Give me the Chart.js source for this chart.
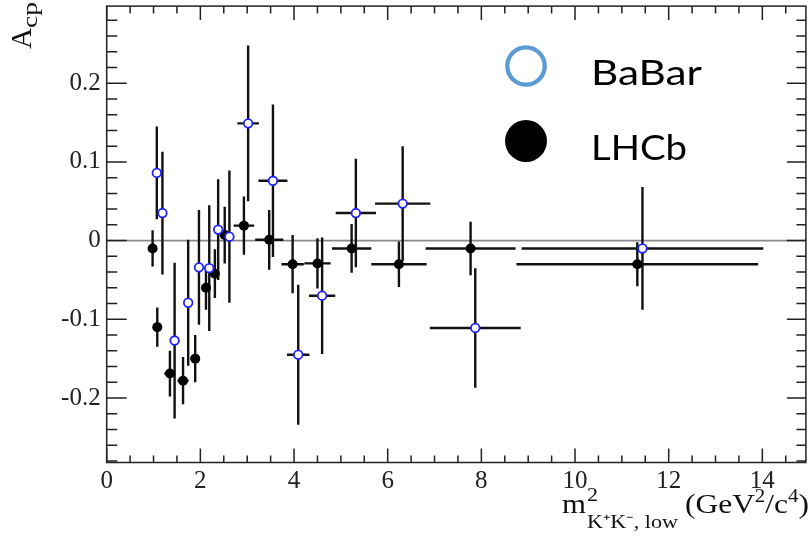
<!DOCTYPE html>
<html>
<head>
<meta charset="utf-8">
<title>Acp vs m2 KK low</title>
<script src="https://cdn.jsdelivr.net/npm/chart.js@4.4.1/dist/chart.umd.min.js"></script>
<style>
  html, body { margin: 0; padding: 0; background: #fff; }
  #wrap { width: 812px; height: 539px; position: relative; }
</style>
</head>
<body>
<div id="wrap"><canvas id="acpChart" width="812" height="539"></canvas></div>
<script>
// BaBar points (open markers)
const babarX    = [1.07, 1.19, 1.45, 1.74, 1.97, 2.19, 2.38, 2.62, 3.02, 3.55, 4.09, 4.60, 5.32, 6.32, 7.87, 11.44];
const babarY    = [0.086, 0.035, -0.127, -0.079, -0.034, -0.035, 0.014, 0.005, 0.149, 0.076, -0.145, -0.070, 0.035, 0.047, -0.111, -0.010];
const babarErrY = [0.059, 0.078, 0.099, 0.080, 0.073, 0.080, 0.064, 0.084, 0.099, 0.097, 0.089, 0.074, 0.069, 0.073, 0.076, 0.078];
const babarErrX = [0, 0, 0, 0, 0, 0, 0, 0, 0.23, 0.31, 0.24, 0.28, 0.43, 0.59, 0.97, 2.58];

// LHCb points (filled markers)
const lhcbX    = [0.98, 1.08, 1.35, 1.63, 1.89, 2.12, 2.31, 2.52, 2.93, 3.47, 3.97, 4.50, 5.23, 6.24, 7.77, 11.33];
const lhcbY    = [-0.010, -0.110, -0.169, -0.178, -0.150, -0.060, -0.042, 0.007, 0.019, 0.001, -0.030, -0.029, -0.010, -0.030, -0.010, -0.030];
const lhcbErrY = [0.023, 0.025, 0.029, 0.030, 0.030, 0.028, 0.031, 0.036, 0.037, 0.038, 0.037, 0.032, 0.031, 0.029, 0.034, 0.028];
const lhcbErrX = [0.04, 0.04, 0.12, 0.12, 0.10, 0.08, 0.08, 0.08, 0.22, 0.30, 0.24, 0.28, 0.42, 0.59, 0.96, 2.58];

// axis ticks
const xTickVals = [0, 2, 4, 6, 8, 10, 12, 14];
const yTickVals = [-0.2, -0.1, 0, 0.1, 0.2];

const toPoints = (xs, ys) => xs.map((x, i) => ({ x: x, y: ys[i] }));

// ROOT-like frame, inward ticks and zero line
const frameTicks = {
  id: 'frameTicks',
  beforeDatasetsDraw(chart) {
    const { ctx, chartArea: a, scales: { x, y } } = chart;
    ctx.save();
    // zero line
    ctx.strokeStyle = '#8a8a8a';
    ctx.lineWidth = 1.6;
    ctx.beginPath();
    ctx.moveTo(a.left, y.getPixelForValue(0));
    ctx.lineTo(a.right, y.getPixelForValue(0));
    ctx.stroke();

    ctx.strokeStyle = '#222';
    ctx.lineWidth = 1.5;
    ctx.strokeRect(a.left, a.top, a.right - a.left, a.bottom - a.top);

    ctx.beginPath();
    // x ticks: major every 2, minor every 0.5
    for (let v = 0; v <= x.max + 1e-9; v += 0.5) {
      const px = x.getPixelForValue(v);
      const major = Math.abs(v / 2 - Math.round(v / 2)) < 1e-6;
      const lb = major ? 14 : 7, lt = major ? 14 : 7.5;
      ctx.moveTo(px, a.bottom); ctx.lineTo(px, a.bottom - lb);
      ctx.moveTo(px, a.top); ctx.lineTo(px, a.top + lt);
    }
    // y ticks: major every 0.1, minor every 0.02
    for (let k = -14; k <= 14; k++) {
      const v = k * 0.02;
      if (v < y.min - 1e-9 || v > y.max + 1e-9) continue;
      const py = y.getPixelForValue(v);
      const major = k % 5 === 0;
      const ll = major ? 20 : 10.5, lr = major ? 19 : 9.5;
      ctx.moveTo(a.left, py); ctx.lineTo(a.left + ll, py);
      ctx.moveTo(a.right, py); ctx.lineTo(a.right - lr, py);
    }
    ctx.stroke();

    // error bars
    ctx.strokeStyle = '#111';
    ctx.lineWidth = 2.4;
    chart.data.datasets.forEach((ds) => {
      ctx.beginPath();
      ds.data.forEach((p, i) => {
        const cx = x.getPixelForValue(p.x), cy = y.getPixelForValue(p.y);
        const ey = ds.errY[i], ex = ds.errX[i];
        ctx.moveTo(cx, y.getPixelForValue(p.y + ey));
        ctx.lineTo(cx, y.getPixelForValue(p.y - ey));
        if (ex > 0) {
          ctx.moveTo(x.getPixelForValue(p.x - ex), cy);
          ctx.lineTo(x.getPixelForValue(p.x + ex), cy);
        }
      });
      ctx.stroke();
    });
    ctx.restore();
  }
};

// draw a run of text pieces, squeezed/stretched to a target width
function drawRun(ctx, pieces, x0, base, targetW) {
  let w = 0;
  pieces.forEach(p => { ctx.font = p.size + 'px "Liberation Serif"'; w += ctx.measureText(p.t).width; });
  const sx = targetW ? targetW / w : 1;
  ctx.save();
  ctx.translate(x0, base);
  ctx.scale(sx, 1);
  let cx = 0;
  pieces.forEach(p => {
    ctx.font = p.size + 'px "Liberation Serif"';
    ctx.fillText(p.t, cx + (p.dx || 0), p.dy || 0);
    if (!p.noAdvance) cx += ctx.measureText(p.t).width;
  });
  ctx.restore();
}

const titlesLegend = {
  id: 'titlesLegend',
  afterDraw(chart) {
    const ctx = chart.ctx;
    ctx.save();
    ctx.fillStyle = '#111';
    ctx.textBaseline = 'alphabetic';
    ctx.textAlign = 'left';

    // y title A_cp (rotated)
    ctx.save();
    ctx.translate(31, 49);
    ctx.rotate(-Math.PI / 2);
    drawRun(ctx, [{ t: 'A', size: 29 }], 0, 0, 21);
    drawRun(ctx, [{ t: 'cp', size: 22 }], 21, 6, 26);
    ctx.restore();

    // x title m^2_{K+K-, low} (GeV^2/c^4)
    drawRun(ctx, [{ t: 'm', size: 27 }], 562, 513, 24);
    drawRun(ctx, [{ t: '2', size: 18 }], 587, 501, 11);
    drawRun(ctx, [{ t: 'K\u207AK\u207B, low', size: 18 }], 587, 528, 91);
    drawRun(ctx, [
      { t: '(GeV', size: 27 },
      { t: '2', size: 18, dy: -11 },
      { t: '/c', size: 27 },
      { t: '4', size: 18, dy: -11 },
      { t: ')', size: 27 }
    ], 685, 513, 124);

    // legend
    ctx.lineWidth = 4.3;
    ctx.strokeStyle = '#5b9bd5';
    ctx.beginPath();
    ctx.arc(526, 66, 18.7, 0, Math.PI * 2);
    ctx.stroke();
    ctx.fillStyle = '#000';
    ctx.beginPath();
    ctx.arc(526, 141, 21, 0, Math.PI * 2);
    ctx.fill();

    ctx.font = '34px Lato';
    let w = ctx.measureText('BaBar').width;
    ctx.save(); ctx.translate(591, 85); ctx.scale(111 / w, 1); ctx.fillText('BaBar', 0, 0); ctx.restore();
    w = ctx.measureText('LHCb').width;
    ctx.save(); ctx.translate(591, 160); ctx.scale(96 / w, 1); ctx.fillText('LHCb', 0, 0); ctx.restore();
    ctx.restore();
  }
};

const noPad = (s) => { s.paddingTop = 0; s.paddingBottom = 0; s.paddingLeft = 0; s.paddingRight = 0; };

new Chart(document.getElementById('acpChart').getContext('2d'), {
  type: 'scatter',
  data: {
    datasets: [
      {
        label: 'BaBar',
        data: toPoints(babarX, babarY),
        errX: babarErrX,
        errY: babarErrY,
        pointStyle: 'circle',
        pointRadius: 4.3,
        pointHoverRadius: 4.3,
        borderWidth: 1.8,
        borderColor: '#2222ff',
        backgroundColor: '#ffffff'
      },
      {
        label: 'LHCb',
        data: toPoints(lhcbX, lhcbY),
        errX: lhcbErrX,
        errY: lhcbErrY,
        pointStyle: 'circle',
        pointRadius: 5,
        pointHoverRadius: 5,
        borderWidth: 0,
        backgroundColor: '#000000'
      }
    ]
  },
  options: {
    responsive: false,
    animation: false,
    layout: { padding: { top: 6, right: 5.3, left: 0, bottom: 0 } },
    plugins: { legend: { display: false }, tooltip: { enabled: false } },
    scales: {
      x: {
        type: 'linear',
        min: 0,
        max: 14.93,
        grid: { display: false, drawTicks: false },
        border: { display: false },
        afterBuildTicks: (s) => { s.ticks = xTickVals.map(v => ({ value: v })); },
        afterFit: (s) => { s.height = 76.5; noPad(s); },
        ticks: {
          padding: 4,
          maxRotation: 0,
          color: '#222',
          font: { family: 'Liberation Serif', size: 25 },
          callback: (v) => String(v)
        }
      },
      y: {
        type: 'linear',
        min: -0.282,
        max: 0.298,
        grid: { display: false, drawTicks: false },
        border: { display: false },
        afterBuildTicks: (s) => { s.ticks = yTickVals.map(v => ({ value: v })); },
        afterFit: (s) => { s.width = 106.7; noPad(s); },
        ticks: {
          padding: 6,
          color: '#222',
          font: { family: 'Liberation Serif', size: 25 },
          callback: (v) => (Math.abs(v) < 1e-9 ? '0' : v.toFixed(1))
        }
      }
    }
  },
  plugins: [frameTicks, titlesLegend]
});
</script>
</body>
</html>
